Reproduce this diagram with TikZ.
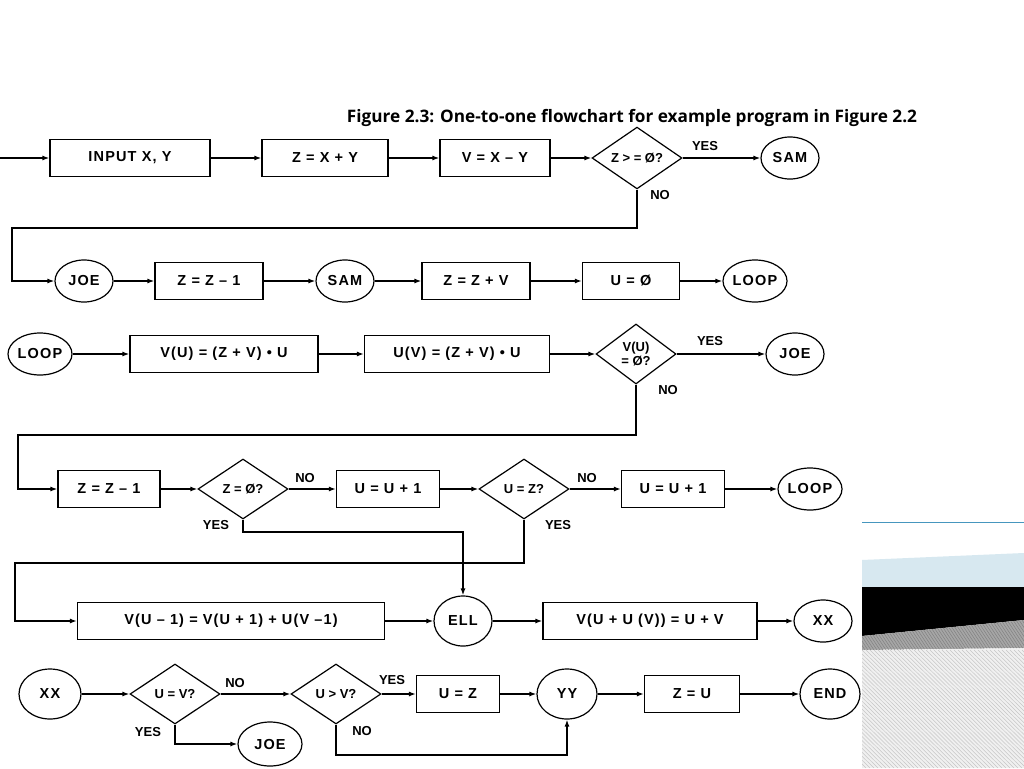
\documentclass[tikz,border=0pt]{standalone}
\usepackage{fontspec}
\setmainfont{Liberation Sans}
\newfontfamily\titlefont{Open Sans}
\usetikzlibrary{shapes.geometric,arrows.meta}
\begin{document}
\begin{tikzpicture}[x=1pt,y=-1pt,
  every node/.style={font=\bfseries\fontsize{14.5}{15}\selectfont\addfontfeatures{LetterSpace=8}},
  box/.style={draw,line width=1.2pt,minimum height=37pt,inner sep=0pt},
  circ/.style={draw,line width=1.2pt,ellipse,minimum width=58pt,minimum height=42pt,inner sep=0pt},
  dia/.style={draw,line width=1.2pt,diamond,minimum width=90pt,minimum height=60pt,inner sep=0pt,font=\bfseries\fontsize{13}{14}\selectfont},
  lab/.style={font=\bfseries\fontsize{13}{14}\selectfont},
  ar/.style={line width=1.3pt,-{Latex[length=7pt,width=5pt]}},
  ln/.style={line width=1.3pt}]
\useasboundingbox (0,0) rectangle (1024,768);
\fill[white] (0,0) rectangle (1024,768);
\node[font=\titlefont\bfseries\fontsize{17.2}{20}\selectfont] (title) at (632,118) {Figure 2.3: One-to-one flowchart for example program in Figure 2.2};
% row 1
\coordinate (s1) at (0,158);
\node[box,minimum width=160pt] (in) at (130,158) {INPUT X, Y};
\node[box,minimum width=126pt] (z1) at (325,158) {Z = X + Y};
\node[box,minimum width=110pt] (v1) at (495,158) {V = X -- Y};
\node[dia] (d1) at (637,158) {Z > = Ø?};
\node[circ] (sam1) at (790,158) {SAM};
\node[lab] at (705,146) {YES};
\node[lab] at (660,195) {NO};
\draw[ar] (s1) -- (in); \draw[ar] (in) -- (z1); \draw[ar] (z1) -- (v1); \draw[ar] (v1) -- (d1); \draw[ar] (d1) -- (sam1);
% row 2
\node[circ] (joe1) at (84,281) {JOE};
\node[box,minimum width=108pt] (z2) at (209,281) {Z = Z -- 1};
\node[circ] (sam2) at (345,281) {SAM};
\node[box,minimum width=108pt] (z3) at (476,281) {Z = Z + V};
\node[box,minimum width=97pt] (u1) at (631,281) {U = Ø};
\node[circ,minimum width=64pt] (loop1) at (755,281) {LOOP};
\draw[ar] (d1.south) -- (637,228) -- (12,228) -- (12,281) -- (joe1);
\draw[ar] (joe1) -- (z2); \draw[ar] (z2) -- (sam2); \draw[ar] (sam2) -- (z3); \draw[ar] (z3) -- (u1); \draw[ar] (u1) -- (loop1);
% row 3
\node[circ,minimum width=64pt] (loop2) at (40,354) {LOOP};
\node[box,minimum width=188pt] (vu) at (224,354) {V(U) = (Z + V) • U};
\node[box,minimum width=185pt] (uv) at (457,354) {U(V) = (Z + V) • U};
\node[dia,minimum width=80pt] (d2) at (636,354) {};
\node[align=center,lab] at (636,354) {V(U)\\= Ø?};
\node[circ] (joe2) at (795,354) {JOE};
\node[lab] at (710,341) {YES};
\node[lab] at (668,390) {NO};
\draw[ar] (loop2) -- (vu); \draw[ar] (vu) -- (uv); \draw[ar] (uv) -- (d2); \draw[ar] (d2) -- (joe2);
% row 4
\node[box,minimum width=102pt] (z4) at (109,489) {Z = Z -- 1};
\node[dia] (d3) at (243,489) {Z = Ø?};
\node[box,minimum width=103pt] (u2) at (388,489) {U = U + 1};
\node[dia] (d4) at (524,489) {U = Z?};
\node[box,minimum width=103pt] (u3) at (673,489) {U = U + 1};
\node[circ,minimum width=64pt] (loop3) at (810,489) {LOOP};
\node[lab] at (305,478) {NO};
\node[lab] at (587,478) {NO};
\node[lab] at (216,525) {YES};
\node[lab] at (558,525) {YES};
\draw[ar] (d2.south) -- (636,435) -- (18,435) -- (18,489) -- (z4);
\draw[ar] (z4) -- (d3); \draw[ar] (d3) -- (u2); \draw[ar] (u2) -- (d4); \draw[ar] (d4) -- (u3); \draw[ar] (u3) -- (loop3);
% row 5
\node[box,minimum width=307pt] (vb) at (231,621) {V(U -- 1) = V(U + 1) + U(V --1)};
\node[circ,minimum height=50pt] (ell) at (463,621) {ELL};
\node[box,minimum width=214pt] (vc) at (650,621) {V(U + U (V)) = U + V};
\node[circ] (xx1) at (823,621) {XX};
\draw[ar] (d3.south) -- (243,532) -- (463,532) -- (ell.north);
\draw[ar] (d4.south) -- (524,563) -- (15,563) -- (15,621) -- (vb);
\draw[ar] (vb) -- (ell); \draw[ar] (ell) -- (vc); \draw[ar] (vc) -- (xx1);
% row 6
\node[circ,minimum width=62pt,minimum height=50pt] (xx2) at (50,694) {XX};
\node[dia] (d5) at (175,694) {U = V?};
\node[dia] (d6) at (336,694) {U > V?};
\node[box,minimum width=83pt] (uz) at (458,694) {U = Z};
\node[circ,minimum width=60pt,minimum height=50pt] (yy) at (567,694) {YY};
\node[box,minimum width=95pt] (zu) at (692,694) {Z = U};
\node[circ,minimum width=60pt,minimum height=50pt] (end) at (830,694) {END};
\node[circ,minimum width=64pt,minimum height=44pt] (joe3) at (270,744) {JOE};
\node[lab] at (235,683) {NO};
\node[lab] at (392,680) {YES};
\node[lab] at (148,732) {YES};
\node[lab] at (362,731) {NO};
\draw[ar] (xx2) -- (d5); \draw[ar] (d5) -- (d6); \draw[ar] (d6) -- (uz); \draw[ar] (uz) -- (yy); \draw[ar] (yy) -- (zu); \draw[ar] (zu) -- (end);
\draw[ar] (d5.south) -- (175,744) -- (joe3);
\draw[ar] (d6.south) -- (336,755) -- (567,755) -- (yy.south);
% decoration
\definecolor{deco}{RGB}{70,150,190}
\definecolor{band}{RGB}{215,232,240}
\draw[deco,line width=0.8pt] (862,522) -- (1024,522);
\fill[band] (862,560) -- (1024,553) -- (1024,590) -- (862,590) -- cycle;
\fill[black] (862,587) -- (1024,587) -- (1024,620) -- (862,636) -- cycle;
\fill[gray!70] (862,636) -- (1024,620) -- (1024,648) -- (862,650) -- cycle;
\fill[gray!12] (862,650) -- (1024,648) -- (1024,768) -- (862,768) -- cycle;
\begin{scope}
\clip (862,650) -- (1024,648) -- (1024,768) -- (862,768) -- cycle;
\foreach \i in {0,4,...,280} \draw[gray!45,line width=0.5pt] (862+\i-120,650) -- (862+\i,768);
\end{scope}
\begin{scope}
\clip (862,636) -- (1024,620) -- (1024,648) -- (862,650) -- cycle;
\foreach \i in {0,3,...,200} \draw[gray,line width=0.5pt] (862+\i-20,620) -- (862+\i,650);
\end{scope}
\end{tikzpicture}
\end{document}
